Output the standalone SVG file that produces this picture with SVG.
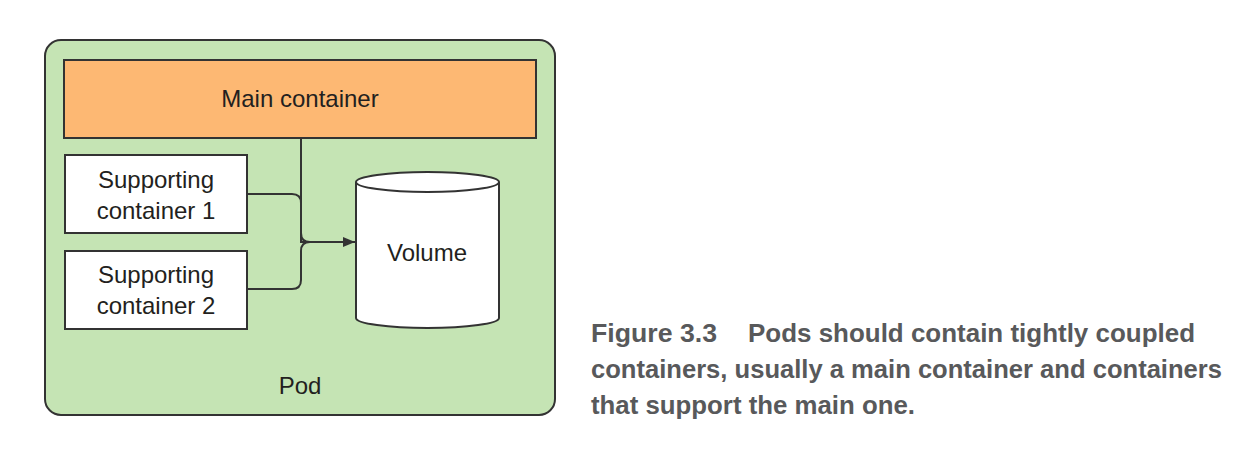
<svg xmlns="http://www.w3.org/2000/svg" width="1260" height="461" viewBox="0 0 1260 461">
<style>
.lbl{font-family:"Liberation Sans",Arial,sans-serif;font-size:24px;fill:#231f20;text-anchor:middle}
.box{stroke:#333;stroke-width:2}
.cap{font-family:"Liberation Sans Narrow","Liberation Sans",Arial,sans-serif;font-weight:bold;font-size:26px;fill:#58595b}
.wire{fill:none;stroke:#333;stroke-width:2}
</style>
<defs>
<marker id="arr" viewBox="0 0 12 10" refX="12" refY="5" markerWidth="12" markerHeight="10" markerUnits="userSpaceOnUse" orient="auto">
<path d="M0,0 L12,5 L0,10 z" fill="#333"/>
</marker>
</defs>
<rect width="1260" height="461" fill="#fff"/>
<g id="pod">
<rect x="45" y="40" width="510" height="375" rx="16" fill="#c5e4b4" class="box"/>
<text class="lbl" x="300" y="394">Pod</text>
</g>
<g id="main-container">
<rect x="64" y="60" width="472" height="78" fill="#fdb873" class="box"/>
<text class="lbl" x="300" y="107">Main container</text>
</g>
<g id="supporting-1">
<rect x="65" y="155" width="182" height="78" fill="#fff" class="box"/>
<text class="lbl" x="156" y="188">Supporting</text>
<text class="lbl" x="156" y="219">container 1</text>
</g>
<g id="supporting-2">
<rect x="65" y="251" width="182" height="78" fill="#fff" class="box"/>
<text class="lbl" x="156" y="283">Supporting</text>
<text class="lbl" x="156" y="314">container 2</text>
</g>
<g id="volume">
<path d="M356,182 L356,318 A71.5,10 0 0 0 499,318 L499,182 A71.5,10 0 0 0 356,182 Z" fill="#fff" class="box"/>
<path d="M356,182 A71.5,10 0 0 0 499,182" fill="none" class="box"/>
<text class="lbl" x="427" y="261">Volume</text>
</g>
<g id="connectors">
<path class="wire" d="M301,138 L301,242 L355,242" marker-end="url(#arr)"/>
<path class="wire" d="M247,194 L292,194 Q301,194 301,203 L301,233 Q301,242 310,242"/>
<path class="wire" d="M247,289 L292,289 Q301,289 301,280 L301,251 Q301,242 310,242"/>
</g>
<g id="caption">
<text class="cap" x="591" y="342" textLength="126" lengthAdjust="spacingAndGlyphs">Figure 3.3</text>
<text class="cap" x="748" y="342" textLength="447" lengthAdjust="spacingAndGlyphs">Pods should contain tightly coupled</text>
<text class="cap" x="591" y="378" textLength="631" lengthAdjust="spacingAndGlyphs">containers, usually a main container and containers</text>
<text class="cap" x="591" y="414" textLength="324" lengthAdjust="spacingAndGlyphs">that support the main one.</text>
</g>
</svg>
